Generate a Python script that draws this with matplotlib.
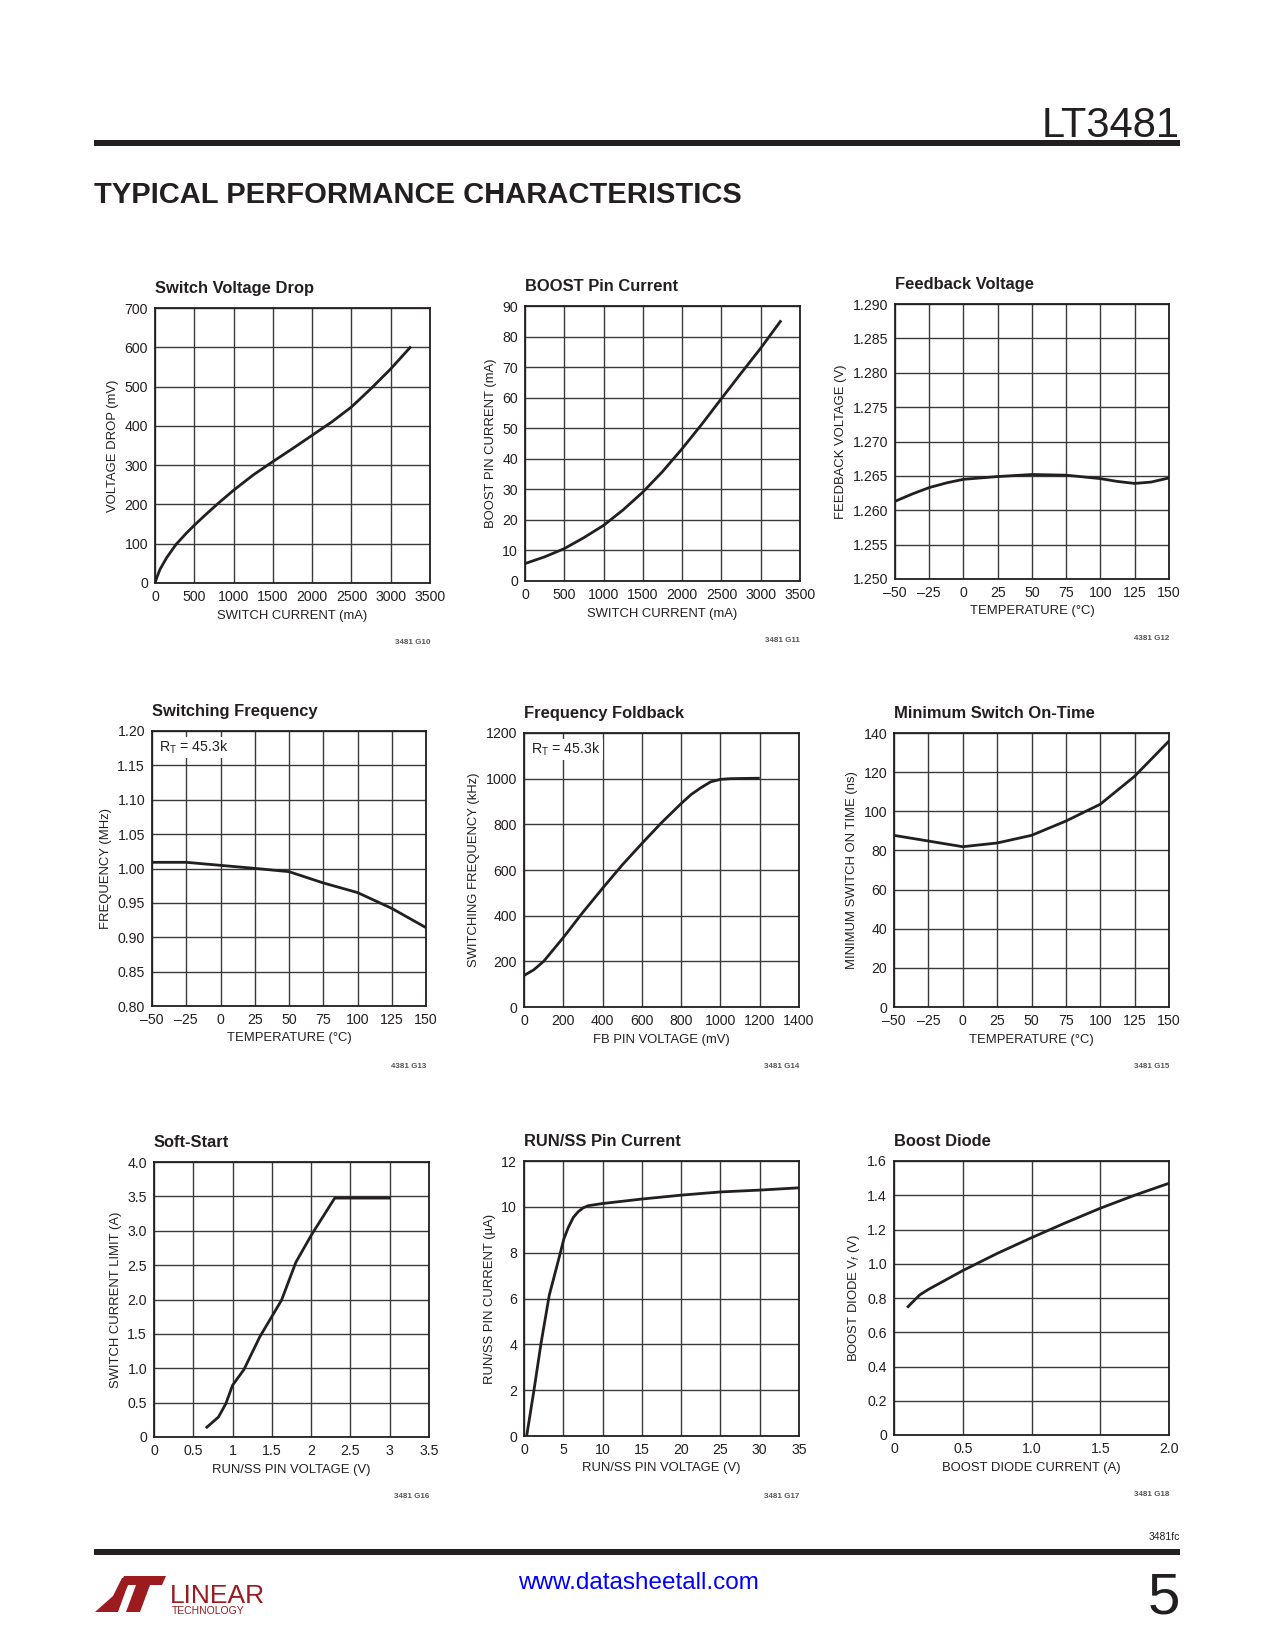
import matplotlib
matplotlib.use("Agg")
import matplotlib.pyplot as plt
from matplotlib import font_manager
from matplotlib.patches import Rectangle, Polygon

# ---- data ----
sw_drop_current = [0, 25, 64, 150, 267, 400, 500, 650, 800, 1000, 1250, 1500, 1750,
                   2000, 2250, 2500, 2750, 3000, 3258]
sw_drop_mv = [0, 15, 35, 65, 98, 127, 147, 175, 202, 236, 275, 309, 342,
              376, 410, 448, 495, 545, 602]

boost_sw_current = [0, 250, 500, 750, 1000, 1250, 1500, 1750, 2000, 2250, 2500, 2750, 3000, 3260]
boost_pin_ma = [5.7, 7.9, 10.6, 14.2, 18.2, 23.3, 29.1, 35.8, 43.3, 51.3, 59.7, 68.0, 76.2, 85.3]

fb_temp = [-50, -37, -25, -12, 0, 25, 50, 75, 100, 112, 125, 137, 150]
fb_volt = [1.2613, 1.2624, 1.2633, 1.2640, 1.2645, 1.2649, 1.2652, 1.2651, 1.2646, 1.2642, 1.2639, 1.2641, 1.2647]

sf_temp = [-50, -25, 0, 25, 50, 75, 100, 125, 150]
sf_mhz = [1.009, 1.009, 1.0046, 1.0002, 0.9954, 0.979, 0.965, 0.942, 0.914]

fold_mv = [0, 50, 100, 200, 300, 400, 500, 600, 700, 800, 850, 900, 950, 1000, 1050, 1200]
fold_khz = [138, 163, 200, 304, 415, 520, 622, 716, 807, 891, 930, 960, 986, 997, 1000, 1002]

ton_temp = [-50, 0, 25, 50, 75, 100, 125, 150]
ton_ns = [87.7, 81.9, 83.8, 87.7, 95.0, 103.6, 117.9, 135.9]

ss_volt = [0.66, 0.82, 0.915, 1.0, 1.144, 1.347, 1.623, 1.805, 2.004, 2.30, 3.01]
ss_amp = [0.13, 0.29, 0.486, 0.753, 0.98, 1.458, 1.99, 2.54, 2.94, 3.475, 3.475]

run_volt = [0.34, 1.27, 2.16, 3.22, 4.16, 4.71, 5.09, 5.64, 6.28, 6.9, 7.55, 8.19, 9.9, 15, 20, 25, 30, 35]
run_ua = [0.0, 2.0, 4.03, 6.15, 7.38, 8.11, 8.62, 9.1, 9.54, 9.79, 9.96, 10.05, 10.14,
          10.34, 10.51, 10.65, 10.73, 10.83]

diode_amp = [0.095, 0.187, 0.25, 0.5, 0.75, 1.0, 1.25, 1.5, 1.75, 2.0]
diode_vf = [0.744, 0.818, 0.85, 0.96, 1.06, 1.152, 1.24, 1.324, 1.40, 1.47]

temp_ticks = [-50, -25, 0, 25, 50, 75, 100, 125, 150]
temp_labels = ["\u201350", "\u201325", "0", "25", "50", "75", "100", "125", "150"]

# ---- fonts ----
names = {f.name for f in font_manager.fontManager.ttflist}
if "Liberation Sans Narrow" in names:
    NARROW = "Liberation Sans Narrow"
    TICK, LAB, TTL = 10.8, 10.5, 13.5
else:
    NARROW = "Liberation Sans"
    TICK, LAB, TTL = 10.2, 9.4, 11.9
plt.rcParams["font.family"] = [NARROW, "DejaVu Sans"]
plt.rcParams["mathtext.fontset"] = "custom"
plt.rcParams["mathtext.rm"] = NARROW
plt.rcParams["mathtext.it"] = NARROW + ":italic"

INK = "#231f20"
W, H = 1275, 1650
fig = plt.figure(figsize=(W / 100, H / 100), dpi=100)


def fx(x):
    return x / W


def fy(y):
    return 1 - y / H


def chart(box, title, xlabel, ylabel, x, y, xlim, ylim, xticks, yticks,
          xlabels, ylabels, code, note=None):
    l, t, r, b = box
    ax = fig.add_axes([fx(l), fy(b), (r - l) / W, (b - t) / H])
    ax.plot(x, y, color=INK, lw=2.0, solid_capstyle="butt", solid_joinstyle="round", zorder=3)
    ax.set_xlim(xlim)
    ax.set_ylim(ylim)
    ax.set_xticks(xticks)
    ax.set_yticks(yticks)
    ax.set_xticklabels(xlabels)
    ax.set_yticklabels(ylabels)
    ax.tick_params(length=0, pad=5, labelsize=TICK, colors=INK)
    ax.grid(True, color="#3a3a3a", lw=1.0)
    ax.set_axisbelow(True)
    for s in ax.spines.values():
        s.set_color(INK)
        s.set_linewidth(1.3)
    ax.set_xlabel(xlabel, fontsize=LAB, color=INK, labelpad=4)
    ax.set_ylabel(ylabel, fontsize=LAB, color=INK, labelpad=4)
    fig.text(fx(l), fy(t - 15), title, fontsize=TTL, fontweight="bold",
             color=INK, ha="left", va="baseline")
    fig.text(fx(r), fy(b + 60), code, fontsize=5.8, fontweight="bold",
             color="#555555", ha="right", va="center")
    if note:
        ax.text(0.027, 0.94, note, transform=ax.transAxes, fontsize=TICK,
                color=INK, ha="left", va="center", zorder=4,
                bbox=dict(facecolor="white", edgecolor="none", pad=1.5))
    return ax


ma_ticks = list(range(0, 3501, 500))
ma_labels = [str(v) for v in ma_ticks]

chart((155, 308, 430, 583), "Switch Voltage Drop", "SWITCH CURRENT (mA)",
      "VOLTAGE DROP (mV)", sw_drop_current, sw_drop_mv, (0, 3500), (0, 700),
      ma_ticks, list(range(0, 701, 100)), ma_labels,
      [str(v) for v in range(0, 701, 100)], "3481 G10")

chart((525, 306, 800, 581), "BOOST Pin Current", "SWITCH CURRENT (mA)",
      "BOOST PIN CURRENT (mA)", boost_sw_current, boost_pin_ma, (0, 3500), (0, 90),
      ma_ticks, list(range(0, 91, 10)), ma_labels,
      [str(v) for v in range(0, 91, 10)], "3481 G11")

fb_ticks = [1.250 + 0.005 * i for i in range(9)]
chart((895, 304, 1169, 579), "Feedback Voltage", "TEMPERATURE (\u00b0C)",
      "FEEDBACK VOLTAGE (V)", fb_temp, fb_volt, (-50, 150), (1.250, 1.290),
      temp_ticks, fb_ticks, temp_labels, ["%.3f" % v for v in fb_ticks], "4381 G12")

sf_ticks = [0.80 + 0.05 * i for i in range(9)]
chart((152, 731, 426, 1006), "Switching Frequency", "TEMPERATURE (\u00b0C)",
      "FREQUENCY (MHz)", sf_temp, sf_mhz, (-50, 150), (0.80, 1.20),
      temp_ticks, sf_ticks, temp_labels, ["%.2f" % v for v in sf_ticks], "4381 G13",
      note="R$_\\mathregular{T}$ = 45.3k")

fold_xt = list(range(0, 1401, 200))
fold_yt = list(range(0, 1201, 200))
chart((524, 733, 799, 1007), "Frequency Foldback", "FB PIN VOLTAGE (mV)",
      "SWITCHING FREQUENCY (kHz)", fold_mv, fold_khz, (0, 1400), (0, 1200),
      fold_xt, fold_yt, [str(v) for v in fold_xt], [str(v) for v in fold_yt],
      "3481 G14", note="R$_\\mathregular{T}$ = 45.3k")

ton_yt = list(range(0, 141, 20))
chart((894, 733, 1169, 1007), "Minimum Switch On-Time", "TEMPERATURE (\u00b0C)",
      "MINIMUM SWITCH ON TIME (ns)", ton_temp, ton_ns, (-50, 150), (0, 140),
      temp_ticks, ton_yt, temp_labels, [str(v) for v in ton_yt], "3481 G15")

ss_xt = [0, 0.5, 1, 1.5, 2, 2.5, 3, 3.5]
ss_yt = [0, 0.5, 1, 1.5, 2, 2.5, 3, 3.5, 4]
chart((154, 1162, 429, 1437), "Soft-Start", "RUN/SS PIN VOLTAGE (V)",
      "SWITCH CURRENT LIMIT (A)", ss_volt, ss_amp, (0, 3.5), (0, 4.0),
      ss_xt, ss_yt, ["0", "0.5", "1", "1.5", "2", "2.5", "3", "3.5"],
      ["0", "0.5", "1.0", "1.5", "2.0", "2.5", "3.0", "3.5", "4.0"], "3481 G16")

run_xt = list(range(0, 36, 5))
run_yt = list(range(0, 13, 2))
chart((524, 1161, 799, 1436), "RUN/SS Pin Current", "RUN/SS PIN VOLTAGE (V)",
      "RUN/SS PIN CURRENT (\u00b5A)", run_volt, run_ua, (0, 35), (0, 12),
      run_xt, run_yt, [str(v) for v in run_xt], [str(v) for v in run_yt], "3481 G17")

d_xt = [0, 0.5, 1.0, 1.5, 2.0]
d_yt = [0, 0.2, 0.4, 0.6, 0.8, 1.0, 1.2, 1.4, 1.6]
chart((894, 1161, 1169, 1435), "Boost Diode", "BOOST DIODE CURRENT (A)",
      "BOOST DIODE V$_f$ (V)", diode_amp, diode_vf, (0, 2.0), (0, 1.6),
      d_xt, d_yt, ["0", "0.5", "1.0", "1.5", "2.0"],
      ["0", "0.2", "0.4", "0.6", "0.8", "1.0", "1.2", "1.4", "1.6"], "3481 G18")

# ---- page furniture ----
fig.text(fx(1180), fy(137), "LT3481", fontsize=30, color=INK, ha="right", va="baseline")
fig.add_artist(Rectangle((fx(94), fy(146)), fx(1180) - fx(94), 6 / H,
                         transform=fig.transFigure, color=INK, lw=0))
fig.text(fx(94), fy(203), "TYPICAL PERFORMANCE CHARACTERISTICS", fontsize=21,
         fontweight="bold", color=INK, ha="left", va="baseline")

fig.text(fx(1180), fy(1537), "3481fc", fontsize=7.5, color=INK, ha="right", va="center")
fig.add_artist(Rectangle((fx(94), fy(1555)), fx(1180) - fx(94), 6 / H,
                         transform=fig.transFigure, color=INK, lw=0))
fig.text(fx(638), fy(1583), "www.datasheetall.com", fontsize=17.5, color="#0000ff",
         ha="center", va="center")
fig.text(fx(1180), fy(1613), "5", fontsize=42, color=INK, ha="right", va="baseline")

# Linear Technology logo (rough)
RED = "#9b1b1f"
logo_l = [(95, 1612), (118, 1612), (126, 1590), (131, 1578), (122, 1578), (113, 1596), (104, 1604)]
logo_t = [(124, 1576), (166, 1576), (162, 1585), (150, 1585), (140, 1612), (126, 1612), (136, 1585), (120, 1585)]
for pts in (logo_l, logo_t):
    fig.add_artist(Polygon([(fx(a), fy(b)) for a, b in pts], closed=True,
                           transform=fig.transFigure, color=RED, lw=0))
fig.text(fx(170), fy(1603), "LINEAR", fontsize=19, color=RED, ha="left", va="baseline")
fig.text(fx(172), fy(1614), "TECHNOLOGY", fontsize=7.5, color=RED, ha="left", va="baseline")

fig.savefig("out.png", dpi=100, facecolor="white")
